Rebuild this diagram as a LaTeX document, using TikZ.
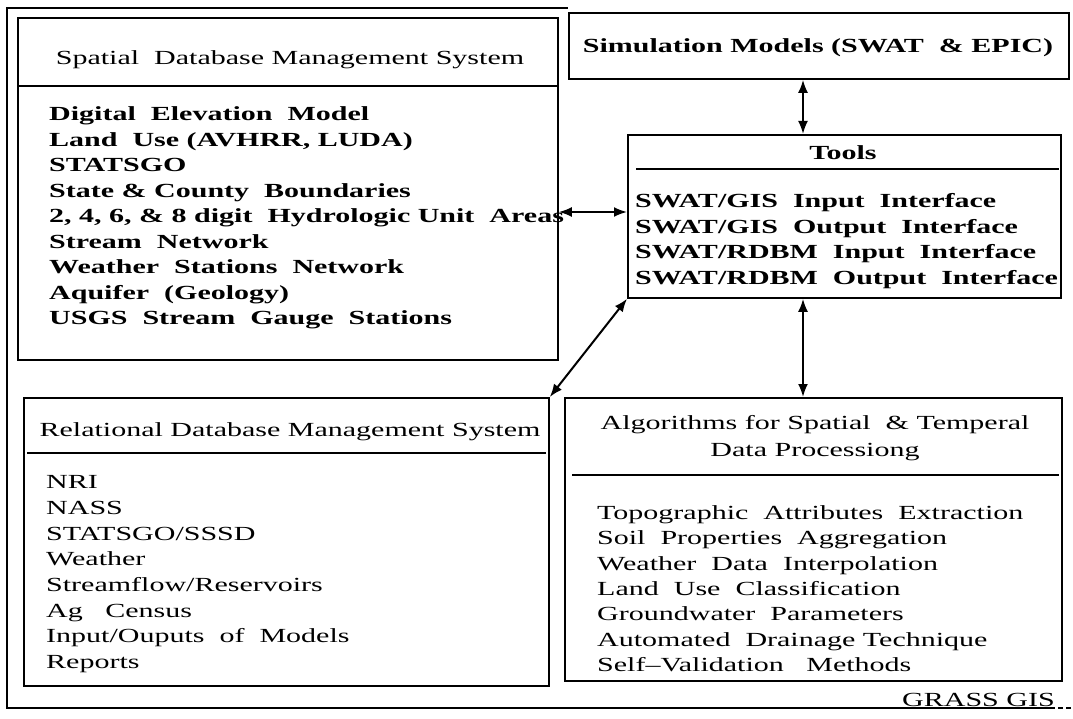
\documentclass[tikz,border=0pt]{standalone}
\usepackage{fontspec}
\setmainfont{Liberation Serif}[FakeStretch=1.5]
\usetikzlibrary{arrows.meta}
\begin{document}
\begin{tikzpicture}[x=1pt,y=-1pt,
  box/.style={draw, line width=1.8pt, inner sep=0pt, anchor=north west},
  sepline/.style={line width=1.5pt},
  txt/.style={font=\fontsize{20}{24}\selectfont, inner sep=0pt, anchor=base west},
  btxt/.style={txt, font=\fontsize{20}{24}\selectfont\bfseries},
  ttl/.style={font=\fontsize{20}{24}\selectfont, inner sep=0pt, anchor=base},
  link/.style={line width=2pt, {Latex[length=13pt,width=10pt]}-{Latex[length=13pt,width=10pt]}}]
\useasboundingbox (0,0) rectangle (1073,719);
\fill[white] (0,0) rectangle (1073,719);

% boxes
\node[box, minimum width=540pt, minimum height=342pt] (spatial) at (17,17) {};
\node[box, minimum width=500pt, minimum height=66pt] (sim) at (568,12) {};
\node[box, minimum width=433pt, minimum height=163pt] (tools) at (627,134) {};
\node[box, minimum width=525pt, minimum height=288pt] (rel) at (23,397) {};
\node[box, minimum width=497pt, minimum height=283pt] (alg) at (564,397) {};

% separators
\draw[sepline] (17,86) -- (557,86);
\draw[sepline] (636,169) -- (1059,169);
\draw[sepline] (27,453) -- (546,453);
\draw[sepline] (572,475) -- (1059,475);

% titles
\node[ttl] (spt) at (290,64.6) {Spatial\ \ Database\ Management\ System};
\node[ttl, font=\fontsize{20}{24}\selectfont\bfseries] (simt) at (818,52.6) {Simulation Models (SWAT\ \ \& EPIC)};
\node[ttl, font=\fontsize{20}{24}\selectfont\bfseries] (toolst) at (843,159.6) {Tools};
\node[ttl] (relt) at (290,436.6) {Relational Database Management System};
\node[ttl] (algt1) at (815,429.6) {Algorithms\ for\ Spatial\ \ \&\ Temperal};
\node[ttl] (algt2) at (815,456.6) {Data\ Processiong};

% items
\foreach [count=\i from 0] \t in {Digital\ \ Elevation\ \ Model, {Land\ \ Use (AVHRR, LUDA)}, STATSGO, {State \& County\ \ Boundaries}, {2, 4, 6, \& 8 digit\ \ Hydrologic Unit\ \ Areas}, {Stream\ \ Network}, {Weather\ \ Stations\ \ Network}, {Aquifer\ \ (Geology)}, {USGS\ \ Stream\ \ Gauge\ \ Stations}}
  \node[btxt] (sp\i) at (49,{120.6+25.5*\i}) {\t};

\foreach [count=\i from 0] \t in {SWAT/GIS\ \ Input\ \ Interface, SWAT/GIS\ \ Output\ \ Interface, SWAT/RDBM\ \ Input\ \ Interface, SWAT/RDBM\ \ Output\ \ Interface}
  \node[btxt] (tl\i) at (635,{207.6+25.5*\i}) {\t};

\foreach [count=\i from 0] \t in {NRI, NASS, STATSGO/SSSD, Weather, Streamflow/Reservoirs, Ag\ \ \ Census, Input/Ouputs\ \ of\ \ Models, Reports}
  \node[txt] (rl\i) at (46,{488.6+25.7*\i}) {\t};

\foreach [count=\i from 0] \t in {Topographic\ \ Attributes\ \ Extraction, Soil\ \ Properties\ \ Aggregation, Weather\ \ Data\ \ Interpolation, Land\ \ Use\ \ Classification, Groundwater\ \ Parameters, Automated\ \ Drainage Technique, Self--Validation\ \ \ Methods}
  \node[txt] (al\i) at (597,{519.6+25.3*\i}) {\t};

% connectors
\coordinate (vx) at (803,0);
\coordinate (hy) at (0,212);
\draw[link] (sim.south -| vx) -- (tools.north -| vx);
\draw[link] (spatial.east |- hy) -- (tools.west |- hy);
\draw[link] (rel.north east) -- (tools.south west);
\draw[link] (tools.south -| vx) -- (alg.north -| vx);

% outer frame and label
\node[txt, anchor=base west] (grass) at (902,706) {GRASS\ GIS};
\draw[line width=1.8pt] (grass.base east |- 0,708) -- (7,708) -- (7,8) -- (sim.west |- 0,8);
\draw[line width=1.5pt] (1058,708) -- (1063,708) (1066,708) -- (1071,708);
\end{tikzpicture}
\end{document}
